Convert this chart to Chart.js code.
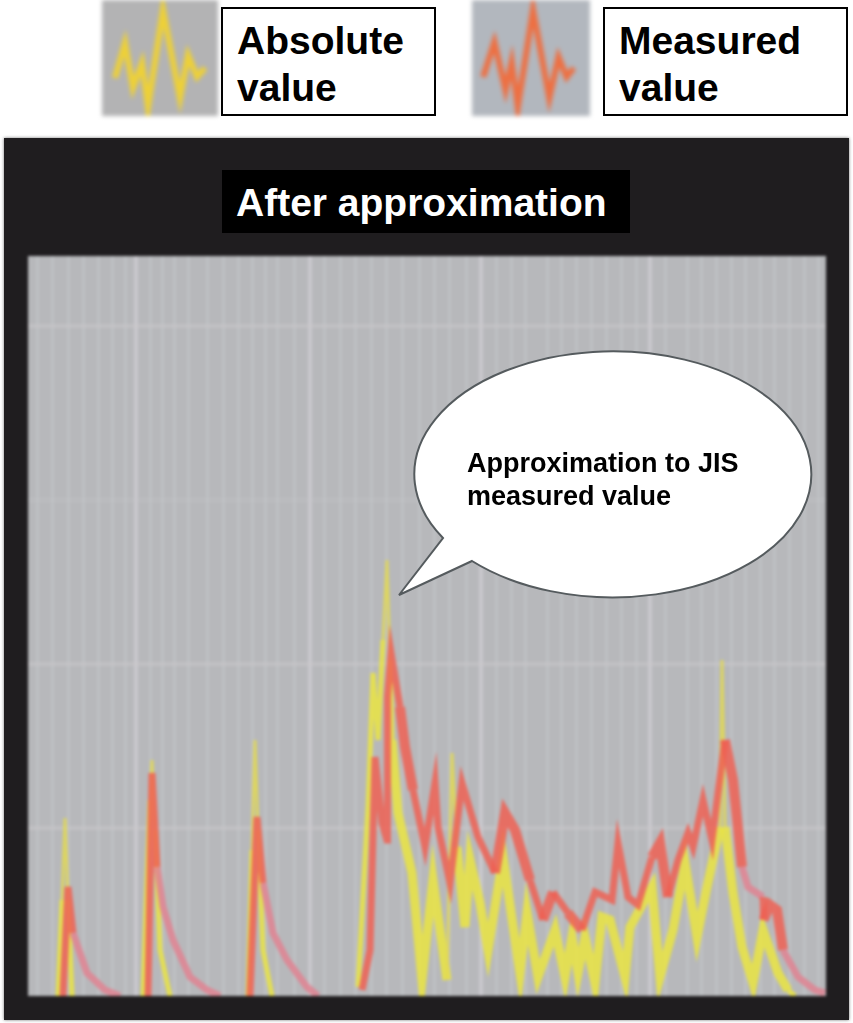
<!DOCTYPE html>
<html>
<head>
<meta charset="utf-8">
<script src="https://cdn.jsdelivr.net/npm/chart.js@4"></script>
<style>
    html, body { margin: 0; padding: 0; background: #fff; overflow: hidden; }
    body { position: relative; width: 853px; height: 1023px; font-family: "Liberation Sans", Arial, sans-serif; font-weight: bold; color: #000; }
    .abs { position: absolute; }
    canvas { position: absolute; }
    #frame { left: 4px; top: 138px; width: 845px; height: 882px; background: #1f1d1f; box-shadow: 0 0 3px #777; }
    #mainChart { left: 28px; top: 256px; background: #b7b8bb; filter: blur(1.5px); }
    #iconAbs { left: 102px; top: 0; background: #b3b3b4; filter: blur(2px); }
    #iconMeas { left: 472px; top: 0; background: #b2b7be; filter: blur(2px); }
    .legendBox { top: 7px; height: 105px; background: #fff; border: 2px solid #000; font-size: 39px; line-height: 47px; box-sizing: content-box; }
    .legendBox span { display: block; margin: 8px 0 0 14px; }
    #titleBox { left: 222px; top: 170px; width: 408px; height: 63px; background: #000; color: #fff; font-size: 39px; line-height: 65px; text-indent: 14px; white-space: nowrap; }
    #bubble { left: 0; top: 0; }
    #bubbleText { left: 467px; top: 447px; font-size: 27px; line-height: 33px; white-space: nowrap; }
</style>
</head>
<body>
<div class="abs" id="frame"></div>
<canvas id="mainChart" width="798" height="740"></canvas>
<canvas id="iconAbs" width="116" height="116"></canvas>
<canvas id="iconMeas" width="118" height="116"></canvas>
<div class="abs legendBox" style="left:221px;width:211px"><span>Absolute<br>value</span></div>
<div class="abs legendBox" style="left:603px;width:241px"><span>Measured<br>value</span></div>
<div class="abs" id="titleBox">After approximation</div>
<svg class="abs" id="bubble" width="853" height="1023">
    <path d="M443 538 A198.5 123 0 1 1 472 561 L399 595 Z" fill="#fff" stroke="#555b5e" stroke-width="2"/>
</svg>
<div class="abs" id="bubbleText">Approximation to JIS<br>measured value</div>

<script>
// values, nulls break the line between bursts
const absoluteX = [30, 34, 37, 40, 44, null,
    115, 119, 122, 124, 127, 132, 142, null,
    220, 224, 227, 230, 235, 244, null,
    330, 340, 345, 350, 355, 359, 362, 364, 370, 384, 394, 405, 419, 424, 429, 437, 442, 452, 460, 475, 490, 492,
    499, 510, 527, 537, 544, 550, 557, 567, 574, 582, 597, 602, 624, 632, 645, 657, 669, 679, 692, 694, 697,
    705, 714, 725, 735, 750, 760, 767];
const absoluteY = [0, 96, 178, 96, 0, null,
    0, 116, 196, 236, 166, 46, 0, null,
    0, 146, 256, 166, 46, 0, null,
    9, 189, 323, 256, 356, 436, 336, 256, 183, 123, 16, 116, 16, 243, 149, 69, 136, 93, 46, 139, 36, 23,
    83, 19, 66, 19, 59, 23, 59, 13, 79, 76, 19, 69, 109, 19, 66, 133, 59, 109, 169, 336, 169,
    103, 49, 13, 66, 23, 6, 0];

const measuredX = [35, 40, 45, 59, 77, 92, null,
    120, 124, 129, 135, 145, 162, 179, 192, null,
    222, 229, 235, 245, 259, 279, 290, null,
    334, 342, 347, 354, 359, 359.5, 363, 372, 377, 385, 397, 407, 410, 422, 434, 450, 467, 477, 487, 502, 515,
    525, 540, 554, 567, 584, 590, 600, 610, 624, 632, 640, 650, 660, 665, 675, 684, 690, 697, 705, 714, 720,
    735, 735.5, 742, 749, 755, 770, 787, 797];
const measuredY = [0, 109, 63, 23, 6, 0, null,
    0, 223, 129, 89, 56, 19, 6, 0, null,
    0, 179, 113, 63, 36, 9, 0, null,
    6, 46, 239, 173, 156, 299, 343, 289, 249, 206, 149, 213, 169, 113, 213, 159, 123, 183, 166, 116, 76,
    104, 83, 66, 104, 96, 153, 99, 91, 139, 153, 99, 136, 163, 149, 196, 156, 203, 256, 216, 129, 109,
    99, 76, 91, 86, 46, 19, 6, 3];

// sections of the measured line where it fades to pink or swells
const fadedRanges = [[45, 92], [129, 192], [235, 290], [714, 735], [755, 798]];
const fatRanges = [[372, 385], [467, 492], [515, 525], [540, 554], [624, 640], [697, 708], [735.5, 755]];
// thin tips of the absolute spikes, and the busy stretch where the line is wider
const thinRanges = [[34, 40], [122, 127], [224, 230], [355, 362], [419, 429], [692, 697]];
const wideRanges = [[364, 419], [429, 692], [697, 760]];

const gridMajorX = [108, 282, 453, 622];
const gridMinorX = [9, 24, 40, 55, 70, 84, 97, 122, 134, 146, 160, 179, 195, 210, 224, 237, 249, 266, 296, 312, 327, 343, 358, 374,
    391, 406, 421, 438, 468, 483, 497, 519, 533, 548, 563, 578, 593, 608, 637, 659, 673, 688, 703, 717, 732, 746, 761, 776, 790];
const gridY = [168, 332, 496, 670];

const iconAbsX = [13, 23, 31, 40, 46, 61, 78, 86, 95, 103];
const iconAbsY = [38, 73, 28, 53, 9, 106, 18, 61, 39, 48];
const iconMeasX = [11, 22, 33, 39, 45, 60, 76, 85, 93, 100];
const iconMeasY = [39, 74, 26, 54, 9, 106, 18, 59, 39, 48];

function points(xs, ys) {
    return xs.map((x, i) => ({ x: x, y: ys[i] }));
}

function inRanges(ranges, x) {
    return ranges.some(r => x >= r[0] && x < r[1]);
}

function hiddenScale(min, max) {
    return { type: 'linear', display: false, min: min, max: max };
}

function absoluteWidth(x) {
    if (inRanges(thinRanges, x)) return 3;
    return inRanges(wideRanges, x) ? 9 : 5;
}

// main plot
new Chart(document.getElementById('mainChart'), {
    type: 'line',
    data: {
        datasets: [
            {
                label: 'Absolute value',
                data: points(absoluteX, absoluteY),
                borderColor: 'rgba(234, 228, 66, 0.85)',
                borderWidth: 5,
                pointRadius: 0,
                tension: 0,
                spanGaps: false,
                order: 2,
                segment: {
                    borderWidth: ctx => absoluteWidth(ctx.p0.parsed.x),
                    borderColor: ctx => inRanges(thinRanges, ctx.p0.parsed.x) ? 'rgba(226, 216, 84, 0.85)' : undefined
                }
            },
            {
                label: 'Measured value',
                data: points(measuredX, measuredY),
                borderColor: 'rgba(238, 96, 84, 0.85)',
                borderWidth: 7,
                pointRadius: 0,
                tension: 0,
                spanGaps: false,
                order: 1,
                segment: {
                    borderWidth: ctx => inRanges(fatRanges, ctx.p0.parsed.x) ? 10 : undefined,
                    borderColor: ctx => inRanges(fadedRanges, ctx.p0.parsed.x) ? 'rgba(224, 130, 146, 0.85)' : undefined
                }
            }
        ]
    },
    options: {
        responsive: false,
        animation: false,
        events: [],
        layout: { padding: 0 },
        plugins: { legend: { display: false }, tooltip: { enabled: false } },
        scales: {
            x: {
                type: 'linear',
                min: 0,
                max: 798,
                afterBuildTicks: axis => {
                    axis.ticks = gridMajorX.concat(gridMinorX).map(v => ({ value: v }));
                },
                ticks: { display: false },
                border: { display: false },
                grid: {
                    drawTicks: false,
                    lineWidth: ctx => gridMajorX.includes(ctx.tick.value) ? 4 : 3,
                    color: ctx => gridMajorX.includes(ctx.tick.value) ? 'rgba(208, 206, 212, 0.7)' : 'rgba(198, 200, 204, 0.5)'
                }
            },
            y: {
                type: 'linear',
                min: 0,
                max: 740,
                afterBuildTicks: axis => {
                    axis.ticks = gridY.map(v => ({ value: v }));
                },
                ticks: { display: false },
                border: { display: false },
                grid: {
                    drawTicks: false,
                    lineWidth: 4,
                    color: ctx => ctx.tick.value === 496 ? 'rgba(200, 198, 202, 0.25)' : 'rgba(204, 200, 204, 0.5)'
                }
            }
        }
    }
});

// legend icons
function drawIcon(id, xs, ys, colour) {
    new Chart(document.getElementById(id), {
        type: 'line',
        data: {
            datasets: [{
                data: points(xs, ys),
                borderColor: colour,
                borderWidth: 6,
                pointRadius: 0,
                tension: 0
            }]
        },
        options: {
            responsive: false,
            animation: false,
            events: [],
            layout: { padding: 0 },
            plugins: { legend: { display: false }, tooltip: { enabled: false } },
            scales: { x: hiddenScale(0, 116), y: hiddenScale(0, 116) }
        }
    });
}

drawIcon('iconAbs', iconAbsX, iconAbsY, 'rgba(240, 210, 50, 0.95)');
drawIcon('iconMeas', iconMeasX, iconMeasY, 'rgba(240, 108, 60, 0.95)');
</script>
</body>
</html>
